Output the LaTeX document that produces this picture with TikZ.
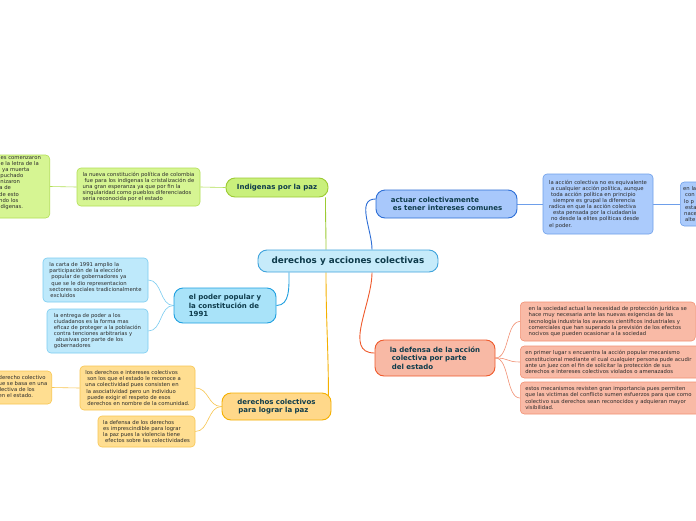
\documentclass[tikz,border=0pt]{standalone}
\usepackage{fontspec}
\setmainfont{DejaVu Sans}
\pgfdeclarelayer{fondo}
\pgfsetlayers{fondo,main}
\definecolor{centroFill}{HTML}{C6EBFA}
\definecolor{centroLine}{HTML}{3FA3DC}
\definecolor{verdeFill}{HTML}{C9F07C}
\definecolor{verdeLine}{HTML}{9CCB33}
\definecolor{verdeSub}{HTML}{D6F593}
\definecolor{verdeSubLine}{HTML}{B2DF55}
\definecolor{celesteFill}{HTML}{A9E3F9}
\definecolor{celesteLine}{HTML}{1E9FE0}
\definecolor{celesteSub}{HTML}{BEE9FB}
\definecolor{celesteSubLine}{HTML}{7ACCF1}
\definecolor{naranjaFill}{HTML}{FFD88A}
\definecolor{naranjaLine}{HTML}{F5B000}
\definecolor{naranjaSub}{HTML}{FFDE91}
\definecolor{naranjaSubLine}{HTML}{F8C650}
\definecolor{azulFill}{HTML}{A8C8FB}
\definecolor{azulLine}{HTML}{2D6ED6}
\definecolor{azulSub}{HTML}{ABCBFC}
\definecolor{azulSubLine}{HTML}{6E9FEA}
\definecolor{rojoFill}{HTML}{F8B9A5}
\definecolor{rojoLine}{HTML}{EF5A2C}
\definecolor{rojoSub}{HTML}{F9BAA6}
\definecolor{rojoSubLine}{HTML}{F29073}
\definecolor{textoTema}{HTML}{0E3B4B}
\definecolor{textoHoja}{HTML}{2A2A2A}

\begin{document}
\begin{tikzpicture}[x=1pt,y=-1pt,line join=round,
    tema/.style={draw,line width=0.9pt,rounded corners=9pt,text=textoTema,
        font=\bfseries\fontsize{7}{8.4}\selectfont,align=left,inner sep=2pt},
    hoja/.style={draw,line width=0.6pt,rounded corners=4pt,text=textoHoja,
        font=\fontsize{5.3}{6.15}\selectfont,align=left,inner sep=2pt},
    trozo/.style={text=textoHoja,font=\fontsize{5.3}{6.15}\selectfont,
        align=left,inner sep=0pt},
    rama/.style={line width=0.9pt},
    hilo/.style={line width=0.6pt}]
    \useasboundingbox (0,0) rectangle (696,520);

    % centro
    \node[tema,fill=centroFill,draw=centroLine,minimum width=180pt,minimum height=22pt,
        font=\bfseries\fontsize{8.8}{10}\selectfont] (centro) at (348,261)
        {derechos y acciones colectivas};

    % rama verde
    \node[tema,fill=verdeFill,draw=verdeLine,minimum width=102pt,minimum height=19pt]
        (indigenas) at (277,187.5) {Indigenas por la paz};
    \node[hoja,fill=verdeSub,draw=verdeSubLine,minimum width=123pt,minimum height=38pt]
        (constitucion) at (138.5,187) {la nueva constitución política de colombia\\
        \hspace*{2pt}fue para los indigenas la cristalización de\\
        una gran esperanza ya que por fin la\\
        singularidad como pueblos diferenciados\\
        seria reconocida por el estado};
    \node[hoja,fill=verdeSub,draw=verdeSubLine,minimum width=90pt,minimum height=63pt,
        anchor=east] (oculto1) at (50,186.5) {};
    \node[trozo,anchor=north west] (oculto1txt) at (-3,156) {nes comenzaron\\
        ue la letra de la\\a ya muerta\\apuchado\\onizaron\\ra de\\
        \hspace*{2pt}de esto\\\hspace*{2pt}ndo los\\ndígenas.};

    % rama celeste
    \node[tema,fill=celesteFill,draw=celesteLine,minimum width=102pt,minimum height=35pt]
        (poder) at (225,305.5) {el poder popular y\\ la constitución de\\ 1991};
    \node[hoja,fill=celesteSub,draw=celesteSubLine,minimum width=105pt,minimum height=44pt]
        (carta) at (95.5,280) {la carta de 1991 amplio la\\
        participación de la elección\\
        \hspace*{2pt}popular de gobernadores ya\\
        \hspace*{2pt}que se le dio representacion\\
        sectores sociales tradicionalmente\\
        \hspace*{1pt}excluidos};
    \node[hoja,fill=celesteSub,draw=celesteSubLine,minimum width=101pt,minimum height=44pt]
        (entrega) at (97.5,331) {la entrega de poder a los\\
        ciudadanos es la forma mas\\
        eficaz de proteger a la población\\
        contra tenciones arbitrarias y\\
        \hspace*{2pt}abusivas por parte de los\\
        gobernadores};

    % rama naranja
    \node[tema,fill=naranjaFill,draw=naranjaLine,minimum width=109pt,minimum height=27pt]
        (paz) at (276.5,406.5) {derechos colectivos\\ \hspace*{1pt}para lograr la paz};
    \node[hoja,fill=naranjaSub,draw=naranjaSubLine,minimum width=115pt,minimum height=44pt]
        (intereses) at (137.5,388) {los derechos e intereses colectivos\\
        \hspace*{2pt}son los que el estado le reconoce a\\
        una colectividad pues consisten en\\
        \hspace*{1pt}la asociatividad pero un individuo\\
        \hspace*{2pt}puede exigir el respeto de esos\\
        \hspace*{2pt}derechos en nombre de la comunidad.};
    \node[hoja,fill=naranjaSub,draw=naranjaSubLine,minimum width=97pt,minimum height=31pt]
        (imprescindible) at (146.5,431.5) {la defensa de los derechos\\
        es imprescindible para lograr\\
        la paz pues la violencia tiene\\
        \hspace*{2pt}efectos sobre las colectividades};
    \node[hoja,fill=naranjaSub,draw=naranjaSubLine,minimum width=90pt,minimum height=33pt,
        anchor=east] (oculto2) at (52,387.5) {};
    \node[trozo,anchor=north west] (oculto2txt) at (-1.5,375) {derecho colectivo\\
        ue se basa en una\\\hspace*{1pt}lectiva de los\\en el estado.};

    % rama azul
    \node[tema,fill=azulFill,draw=azulLine,minimum width=141pt,minimum height=28pt]
        (actuar) at (446.5,204) {actuar colectivamente\\ \hspace*{2pt}es tener intereses comunes};
    \node[hoja,fill=azulSub,draw=azulSubLine,minimum width=110pt,minimum height=60pt]
        (grupal) at (598,204) {la acción colectiva no es equivalente\\
        \hspace*{2pt}a cualquier acción política, aunque\\
        \hspace*{2pt}toda acción política en principio\\
        \hspace*{4pt}siempre es grupal la diferencia\\
        radica en que la acción colectiva\\
        \hspace*{4pt}esta pensada por la ciudadanía\\
        \hspace*{2pt}no desde la elites políticas desde\\
        el poder.};
    \node[hoja,fill=azulSub,draw=azulSubLine,minimum width=60pt,minimum height=44pt,
        anchor=west] (oculto3) at (680,204) {};
    \node[trozo,anchor=north west] (oculto3txt) at (683,186.5) {en la\\
        \hspace*{2pt}con\\\hspace*{1pt}lo p\\\hspace*{2pt}esta\\\hspace*{1pt}nace\\
        \hspace*{2pt}alte};

    % rama roja
    \node[tema,fill=rojoFill,draw=rojoLine,minimum width=120pt,minimum height=36pt]
        (defensa) at (435,358) {la defensa de la acción\\ \hspace*{2pt}colectiva por parte\\
        \hspace*{2pt}del estado};
    \node[hoja,fill=rojoSub,draw=rojoSubLine,minimum width=175pt,minimum height=39pt,
        anchor=west] (proteccion) at (520,321.5) {en la sociedad actual la necesidad de protección jurídica se\\
        hace muy necesaria ante las nuevas exigencias de las\\
        tecnología industria los avances científicos industriales y\\
        comerciales que han superado la previsión de los efectos\\
        nocivos que pueden ocasionar a la sociedad};
    \node[hoja,fill=rojoSub,draw=rojoSubLine,text width=180pt,inner xsep=5pt,
        minimum height=32pt,anchor=west] (popular) at (520,362)
        {en primer lugar s encuentra la acción popular mecanismo\\
        constitucional mediante el cual cualquier persona pude acudir\\
        ante un juez con el fin de solicitar la protección de sus\\
        derechos e intereses colectivos violados o amenazados};
    \node[hoja,fill=rojoSub,draw=rojoSubLine,text width=180pt,inner xsep=5pt,
        minimum height=32pt,anchor=west] (victimas) at (520,398)
        {estos mecanismos revisten gran importancia pues permiten\\
        que las victimas del conflicto sumen esfuerzos para que como\\
        colectivo sus derechos sean reconocidos y adquieran mayor\\
        visibilidad.};

    \begin{pgfonlayer}{fondo}
        \fill[white] (0,0) rectangle (696,520);
        \draw[rama,verdeLine] ([xshift=-22pt]centro.north) to[out=90,in=-90]
            ([xshift=-3pt]indigenas.south east);
        \draw[rama,azulLine] ([xshift=24pt]centro.north) to[out=90,in=180]
            ([yshift=5pt]actuar.west);
        \draw[rama,celesteLine] ([xshift=-59pt]centro.south) to[out=-90,in=0] (poder.east);
        \draw[rama,naranjaLine] ([xshift=-22pt]centro.south) to[out=-90,in=90]
            ([xshift=-3pt,yshift=-6pt]paz.north east);
        \draw[rama,rojoLine] ([xshift=24pt]centro.south) to[out=-90,in=180]
            ([yshift=5pt]defensa.west);

        \draw[hilo,verdeSubLine] (indigenas.west) -- (constitucion.east);
        \draw[hilo,verdeSubLine] (constitucion.west) -- (oculto1.east);
        \foreach \n in {carta,entrega}
            \draw[hilo,celesteSubLine] (poder.west) .. controls +(-14,0) and +(14,0) .. (\n.east);
        \foreach \n in {intereses,imprescindible}
            \draw[hilo,naranjaSubLine] (paz.west) .. controls +(-14,0) and +(14,0) .. (\n.east);
        \draw[hilo,naranjaSubLine] (intereses.west) -- (oculto2.east);
        \draw[hilo,azulSubLine] (actuar.east) -- (grupal.west);
        \draw[hilo,azulSubLine] (grupal.east) -- (oculto3.west);
        \foreach \n in {proteccion,popular,victimas}
            \draw[hilo,rojoSubLine] (defensa.east) .. controls +(14,0) and +(-14,0) .. (\n.west);
    \end{pgfonlayer}
\end{tikzpicture}
\end{document}
